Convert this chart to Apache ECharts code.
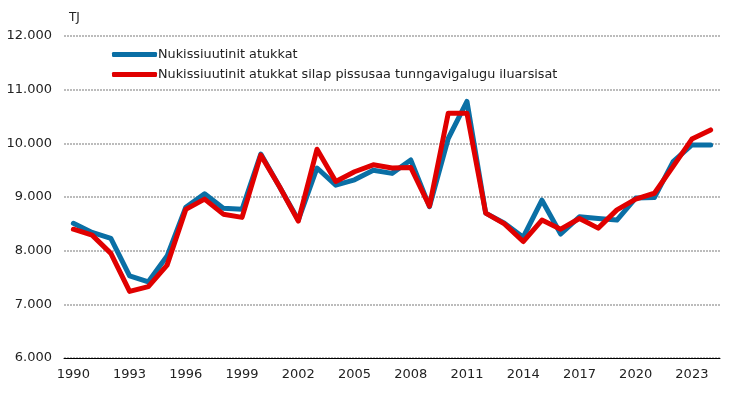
<!DOCTYPE html>
<html>
<head>
<meta charset="utf-8">
<script src="https://cdn.jsdelivr.net/npm/echarts@6/dist/echarts.min.js"></script>
<style>
    html, body { margin: 0; padding: 0; background: #fff; }
    #chart { width: 737px; height: 398px; }
</style>
</head>
<body>
<div id="chart"></div>
<script>
    // data
    var years = [];
    for (var y = 1990; y <= 2024; y++) years.push(String(y));
    var seriesNames = ['Nukissiuutinit atukkat', 'Nukissiuutinit atukkat silap pissusaa tunngavigalugu iluarsisat'];
    var usedValues = [8510, 8340, 8230, 7530, 7420, 7900, 8810, 9060, 8790, 8770,
                      9800, 9190, 8570, 9540, 9220, 9320, 9500, 9440, 9690, 8820,
                      10090, 10780, 8700, 8510, 8250, 8940, 8310, 8630, 8600, 8570,
                      8980, 8990, 9660, 9970, 9970];
    var adjustedValues = [8400, 8290, 7950, 7240, 7330, 7730, 8770, 8960, 8680, 8620,
                          9780, 9190, 8550, 9890, 9290, 9470, 9600, 9540, 9550, 8830,
                          10560, 10560, 8700, 8500, 8170, 8570, 8400, 8600, 8420, 8760,
                          8960, 9070, 9570, 10080, 10250];
    var yUnit = 'TJ';

    function fmt(v) {
        return String(v).replace(/\B(?=(\d{3})+(?!\d))/g, '.');
    }

    var font = 'DejaVu Sans';
    var option = {
        animation: false,
        backgroundColor: '#ffffff',
        grid: { left: 64, right: 17, top: 36, bottom: 40 },
        legend: {
            orient: 'vertical',
            left: 107,
            top: 42,
            itemGap: 5,
            itemWidth: 45,
            itemHeight: 5,
            icon: 'roundRect',
            textStyle: { fontFamily: font, fontSize: 12.8, lineHeight: 15, color: '#222', padding: [0, 0, 0, -4] },
            data: seriesNames
        },
        xAxis: {
            type: 'category',
            data: years,
            boundaryGap: true,
            axisLine: { lineStyle: { color: '#000', width: 1 } },
            axisTick: { show: false },
            axisLabel: { interval: 2, fontFamily: font, fontSize: 13, color: '#222', margin: 10 }
        },
        yAxis: {
            type: 'value',
            min: 6000,
            max: 12000,
            interval: 1000,
            name: yUnit,
            nameLocation: 'end',
            nameGap: 12,
            nameTextStyle: { fontFamily: font, fontSize: 12, color: '#222', align: 'left', padding: [0, 0, 0, 5] },
            axisLine: { show: false },
            axisTick: { show: false },
            axisLabel: { fontFamily: font, fontSize: 13, color: '#222', margin: 12, formatter: fmt },
            splitLine: { lineStyle: { color: '#a6a6a6', type: [2, 1], width: 1.5 } }
        },
        series: [
            {
                name: seriesNames[0],
                type: 'line',
                data: usedValues,
                symbol: 'none',
                itemStyle: { color: '#0a6fa5' },
                lineStyle: { color: '#0a6fa5', width: 5, join: 'round', cap: 'round' }
            },
            {
                name: seriesNames[1],
                type: 'line',
                data: adjustedValues,
                symbol: 'none',
                itemStyle: { color: '#e00000' },
                lineStyle: { color: '#e00000', width: 5, join: 'round', cap: 'round' }
            }
        ]
    };

    var myChart = echarts.init(document.getElementById('chart'));
    myChart.setOption(option, true);
</script>
</body>
</html>
